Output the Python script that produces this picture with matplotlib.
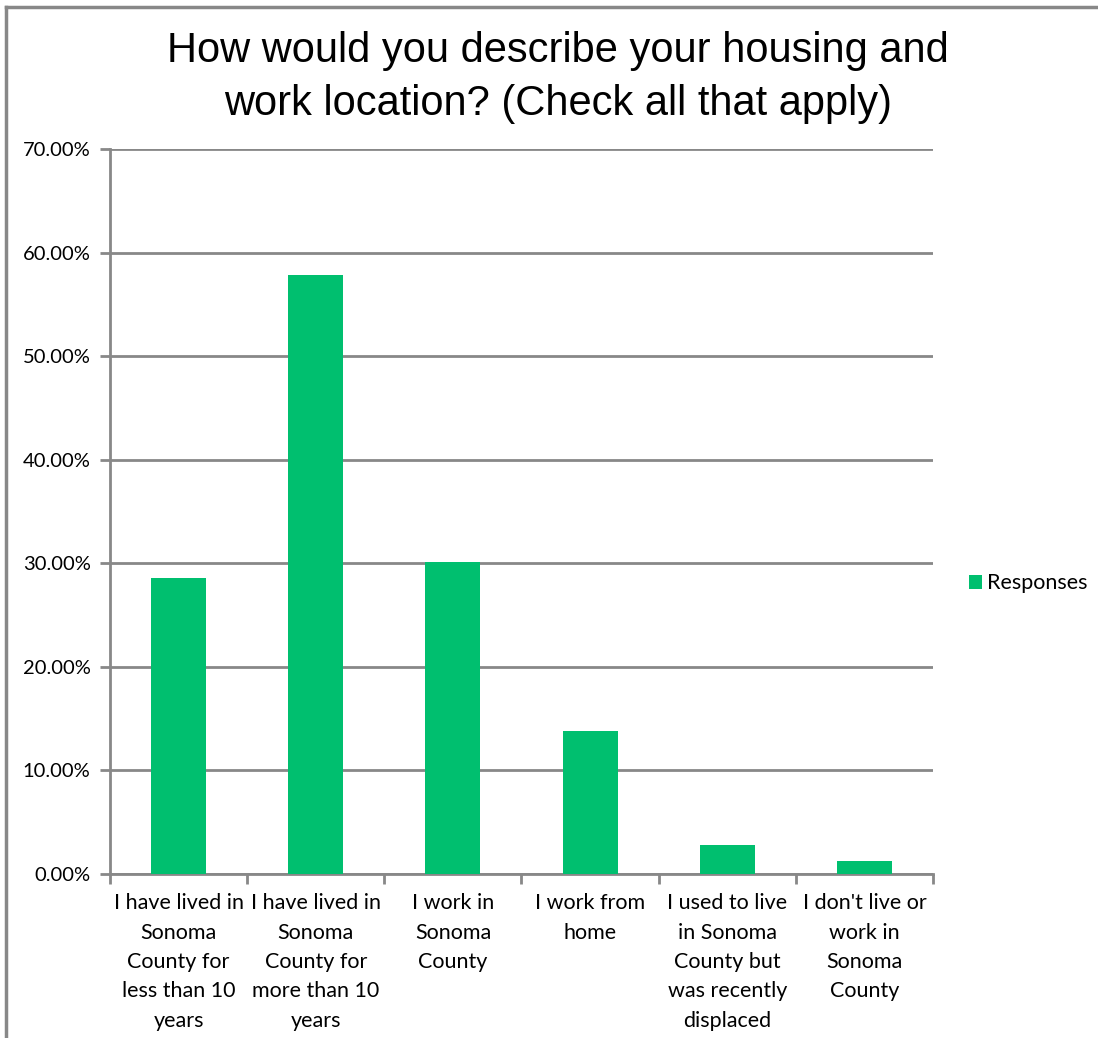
import matplotlib
matplotlib.use('Agg')
import matplotlib.pyplot as plt
from matplotlib.lines import Line2D
import numpy as np

categories = ['I have lived in\nSonoma\nCounty for\nless than 10\nyears',
              'I have lived in\nSonoma\nCounty for\nmore than 10\nyears',
              'I work in\nSonoma\nCounty',
              'I work from\nhome',
              'I used to live\nin Sonoma\nCounty but\nwas recently\ndisplaced',
              "I don't live or\nwork in\nSonoma\nCounty"]
responses = [28.6, 57.8, 30.1, 13.8, 2.8, 1.3]
yticks = [0, 10, 20, 30, 40, 50, 60, 70]

green = '#00BF6F'
gray = '#888888'
labelFont = 'Lato'

fig = plt.figure(figsize=[10.98, 10.38], dpi=100)
ax = fig.add_axes([0.1002, 0.158, 0.7495, 0.6985])

x = np.arange(len(categories))
ax.bar(x, responses, width=0.4, color=green, label='Responses', zorder=3)

ax.set_xlim(-0.5, len(categories) - 0.5)
ax.set_ylim(0, 70)
ax.set_yticks(yticks)
ax.set_yticklabels(['{0:.2f}%'.format(v) for v in yticks], fontsize=14.5, family=labelFont)
ax.yaxis.grid(True, color=gray, linewidth=2, zorder=0)

# category ticks sit between bars, labels centred under bars
ax.set_xticks(np.arange(len(categories) + 1) - 0.5)
ax.set_xticklabels([])
ax.set_xticks(x, minor=True)
ax.set_xticklabels(categories, minor=True, fontsize=15.5, family=labelFont, linespacing=1.58,
                   va='top')
ax.tick_params(axis='x', which='minor', length=0, pad=14)
ax.tick_params(axis='x', which='major', length=7, width=2, color=gray)
ax.tick_params(axis='y', length=7, width=2, color=gray, pad=7)

for side in ['top', 'right']:
  ax.spines[side].set_visible(False)
for side in ['left', 'bottom']:
  ax.spines[side].set_color(gray)
  ax.spines[side].set_linewidth(2)

fig.text(0.508, 0.9255, 'How would you describe your housing and\nwork location? (Check all that apply)',
         ha='center', va='center', fontsize=30, family='Liberation Sans', linespacing=1.42)

leg = ax.legend(loc='center left', bbox_to_anchor=(1.02, 0.401), frameon=False,
                prop={'family': labelFont, 'size': 15.5}, handlelength=0.6, handleheight=0.6,
                handletextpad=0.25)

# outer chart frame (only top and left edges visible in the original)
fig.add_artist(Line2D([0.0055, 1.0], [0.9935, 0.9935], color=gray, linewidth=2.5))
fig.add_artist(Line2D([0.0055, 0.0055], [0.0, 0.9935], color=gray, linewidth=2.5))

plt.savefig('out.png', dpi=100)
